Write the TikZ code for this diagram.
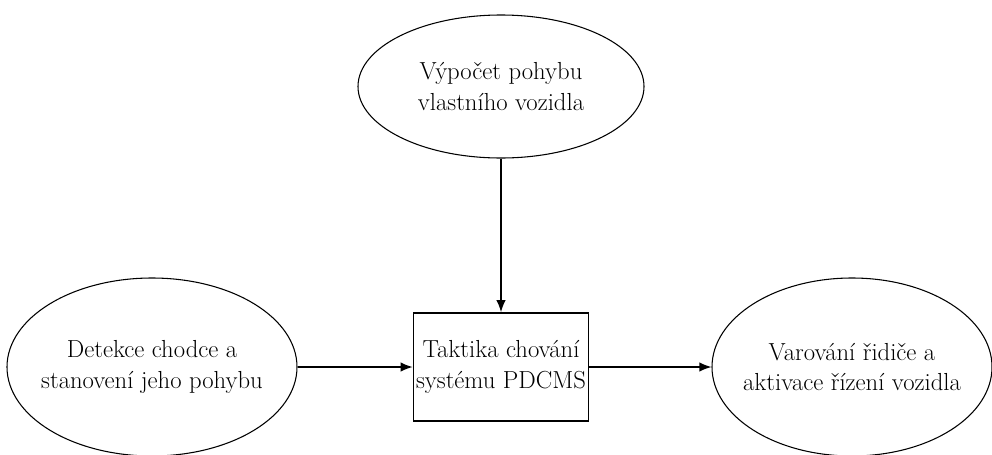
\documentclass[tikz,border=0pt]{standalone}
\usetikzlibrary{shapes.geometric,arrows.meta}

\tikzset{every picture/.style={line width=0.75pt}}
\tikzset{
  oval/.style={draw, ellipse, line width=0.8pt, inner sep=-20pt, align=center, font=\fontsize{18.5}{23}\selectfont},
  tactic/.style={draw, rectangle, line width=1.3pt, inner sep=0pt, align=center, font=\fontsize{18.5}{23}\selectfont},
  flow/.style={-{Latex[length=9pt,width=7pt]}, line width=0.9pt}
}

\begin{document}
\begin{tikzpicture}[x=0.75pt,y=0.75pt,yscale=-1,xscale=1]
	\useasboundingbox (0,0) rectangle (992,454);

	%Shape: Ellipse [id:top]
	\node [oval, minimum width=214.5pt, minimum height=107.25pt] (vypocet) at (501,86.5) {Výpočet pohybu\\vlastního vozidla};
	%Shape: Rectangle [id:centre]
	\node [tactic, minimum width=131.25pt, minimum height=81pt] (taktika) at (501,367) {Taktika chování\\systému PDCMS};
	%Shape: Ellipse [id:left]
	\node [oval, minimum width=217.5pt, minimum height=133.5pt] (detekce) at (152,367) {Detekce chodce a\\stanovení jeho pohybu};
	%Shape: Ellipse [id:right]
	\node [oval, minimum width=210pt, minimum height=133.5pt] (varovani) at (852,367) {Varování řidiče a\\aktivace řízení vozidla};

	%Straight Lines
	\draw [flow] (vypocet) -- (taktika);
	\draw [flow] (detekce) -- (taktika);
	\draw [flow] (taktika) -- (varovani);

\end{tikzpicture}
\end{document}
